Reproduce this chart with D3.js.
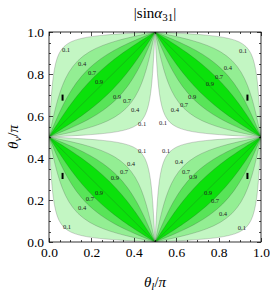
<!DOCTYPE html>
<meta charset="utf-8">
<style>
  body { margin: 0; background: white; }
  svg { background-color: white; }
  .axis text { font-family: "Liberation Serif", "Times New Roman", serif; font-size: 13.5px; fill: black; }
  .axis path { stroke: none; }
  .axis line { stroke: black; stroke-width: 0.7; shape-rendering: crispEdges; }
  .clab { font-family: "Liberation Serif", serif; font-size: 6.5px; fill: #222; }
  .ttl { font-family: "Liberation Serif", "Times New Roman", serif; fill: black; }
</style>
<body>
<div id="chart"></div>
<script src="https://d3js.org/d3.v7.min.js"></script>
<script>
// contour levels of |sin a31| and their fill colours (band above each level)
var levels = [0.1, 0.4, 0.7, 0.9];
var bandColors = ["#c3f6c3", "#93ee93", "#58e458", "#0be10b"];

// outer contour of each level, lower-left quadrant, from the diagonal point outwards (theta_l/pi, theta_nu/pi)
var c01x = [0.0701, 0.1031, 0.1485, 0.2071, 0.2678, 0.3378, 0.3946, 0.4437, 0.4763];
var c01y = [0.0701, 0.0472, 0.0316, 0.0209, 0.0142, 0.0089, 0.0055, 0.0029, 0.0012];
var c04x = [0.1364, 0.1912, 0.2543, 0.3179, 0.3686, 0.4149, 0.4469, 0.4722, 0.4884];
var c04y = [0.1364, 0.0941, 0.0638, 0.0425, 0.0290, 0.0182, 0.0112, 0.0058, 0.0024];
var c07x = [0.1810, 0.2433, 0.3066, 0.3627, 0.4035, 0.4385, 0.4619, 0.4801, 0.4917];
var c07y = [0.1810, 0.1282, 0.0881, 0.0592, 0.0405, 0.0254, 0.0156, 0.0081, 0.0034];
var c09x = [0.2132, 0.2772, 0.3372, 0.3868, 0.4212, 0.4502, 0.4692, 0.4839, 0.4933];
var c09y = [0.2132, 0.1546, 0.1077, 0.0728, 0.0500, 0.0314, 0.0194, 0.0101, 0.0042];

// contour labels
var labText = ["0.1","0.4","0.7","0.9","0.9","0.7","0.4","0.1",
               "0.1","0.4","0.7","0.9","0.9","0.7","0.4","0.1",
               "0.1","0.4","0.7","0.9","0.9","0.7","0.4","0.1",
               "0.1","0.4","0.7","0.9","0.9","0.7","0.4","0.1"];
var labX = [0.080,0.156,0.203,0.236,0.321,0.368,0.406,0.439,
            0.915,0.844,0.802,0.759,0.675,0.637,0.594,0.538,
            0.439,0.387,0.354,0.311,0.236,0.193,0.156,0.085,
            0.552,0.613,0.646,0.679,0.750,0.783,0.821,0.910];
var labY = [0.919,0.852,0.805,0.762,0.695,0.676,0.633,0.562,
            0.914,0.829,0.786,0.757,0.695,0.657,0.633,0.567,
            0.438,0.376,0.338,0.305,0.238,0.205,0.162,0.076,
            0.438,0.381,0.338,0.310,0.238,0.200,0.138,0.071];

// small black marks
var markX = [0.064, 0.064, 0.936, 0.936];
var markY0 = [0.673, 0.300, 0.673, 0.300];
var markY1 = [0.702, 0.329, 0.702, 0.329];

var majorTicks = [0, 0.2, 0.4, 0.6, 0.8, 1.0];
var minorTicks = [0.05,0.1,0.15,0.25,0.3,0.35,0.45,0.5,0.55,0.65,0.7,0.75,0.85,0.9,0.95];

var W = 270, H = 293;
var pL = 49, pR = 261, pT = 32, pB = 242;

var x = d3.scaleLinear().domain([0, 1]).range([pL, pR]);
var y = d3.scaleLinear().domain([0, 1]).range([pB, pT]);

var svg = d3.select("#chart").append("svg")
    .attr("width", W).attr("height", H);

svg.append("clipPath").attr("id", "clip")
  .append("rect")
    .attr("x", pL).attr("y", pT)
    .attr("width", pR - pL).attr("height", pB - pT);

var plot = svg.append("g").attr("clip-path", "url(#clip)");

// build full outer curve of a level (from (0,.5) to (.5,0))
function fullCurve(cx, cy) {
  var pts = [[0, 0.5]];
  for (var i = cx.length - 1; i >= 1; i--) pts.push([cy[i], cx[i]]);
  pts.push([cx[0], cy[0]]);
  for (var i = 1; i < cx.length; i++) pts.push([cx[i], cy[i]]);
  pts.push([0.5, 0]);
  return pts;
}
var curves = [fullCurve(c01x, c01y), fullCurve(c04x, c04y), fullCurve(c07x, c07y), fullCurve(c09x, c09y)];
// inner contour is the outer one turned round the quadrant centre
var inner = curves.map(function(c) { return c.map(function(p) { return [0.5 - p[0], 0.5 - p[1]]; }); });

var quads = [[false,false],[true,false],[false,true],[true,true]];

quads.forEach(function(q) {
  var line = d3.line()
    .x(function(d) { return x(q[0] ? 1 - d[0] : d[0]); })
    .y(function(d) { return y(q[1] ? 1 - d[1] : d[1]); })
    .curve(d3.curveCatmullRom.alpha(0.5));

  levels.forEach(function(lv, i) {
    plot.append("path")
      .attr("d", line(curves[i]) + line(inner[i]).replace(/^M/, "L") + "Z")
      .attr("fill", bandColors[i])
      .attr("stroke", "none");
  });
  levels.forEach(function(lv, i) {
    [curves[i], inner[i]].forEach(function(c) {
      plot.append("path")
        .attr("d", line(c))
        .attr("fill", "none")
        .attr("stroke", "#333")
        .attr("stroke-opacity", 0.4)
        .attr("stroke-width", 0.55);
    });
  });
  plot.append("path")
    .attr("d", line([[0, 0.5], [0.5, 0]]))
    .attr("fill", "none")
    .attr("stroke", "#333")
    .attr("stroke-opacity", 0.4)
    .attr("stroke-width", 0.55);
});

// contour labels
plot.selectAll(".clab")
  .data(labText)
  .enter().append("text")
    .attr("class", "clab")
    .attr("x", function(d, i) { return x(labX[i]); })
    .attr("y", function(d, i) { return y(labY[i]); })
    .attr("text-anchor", "middle")
    .attr("dominant-baseline", "central")
    .text(function(d) { return d; });

// black marks
plot.selectAll(".mark")
  .data(markX)
  .enter().append("line")
    .attr("class", "mark")
    .attr("x1", function(d) { return x(d); })
    .attr("x2", function(d) { return x(d); })
    .attr("y1", function(d, i) { return y(markY0[i]); })
    .attr("y2", function(d, i) { return y(markY1[i]); })
    .attr("stroke", "black")
    .attr("stroke-width", 2);

// frame ticks (inside)
function addAxis(gen, tx, ty, vals, size, labels) {
  var a = gen.tickValues(vals).tickSizeInner(-size).tickSizeOuter(0).tickPadding(labels ? 5 : 0);
  if (!labels) a.tickFormat("");
  else a.tickFormat(d3.format(".1f"));
  svg.append("g").attr("class", "axis")
    .attr("transform", "translate(" + tx + "," + ty + ")")
    .call(a);
}
addAxis(d3.axisBottom(x), 0, pB, majorTicks, 4, true);
addAxis(d3.axisBottom(x), 0, pB, minorTicks, 2, false);
addAxis(d3.axisTop(x), 0, pT, majorTicks, 4, false);
addAxis(d3.axisTop(x), 0, pT, minorTicks, 2, false);
addAxis(d3.axisLeft(y), pL, 0, majorTicks, 4, true);
addAxis(d3.axisLeft(y), pL, 0, minorTicks, 2, false);
addAxis(d3.axisRight(y), pR, 0, majorTicks, 4, false);
addAxis(d3.axisRight(y), pR, 0, minorTicks, 2, false);

svg.append("rect")
  .attr("x", pL).attr("y", pT)
  .attr("width", pR - pL).attr("height", pB - pT)
  .attr("fill", "none").attr("stroke", "black").attr("stroke-width", 0.8);

// title and axis labels
var t = svg.append("text").attr("class", "ttl")
  .attr("x", (pL + pR) / 2).attr("y", 18)
  .attr("text-anchor", "middle").attr("font-size", 15);
t.append("tspan").text("|sin");
t.append("tspan").attr("font-style", "italic").text("α");
t.append("tspan").attr("font-size", 11).attr("dy", 3).text("31");
t.append("tspan").attr("dy", -3).text("|");

var xl = svg.append("text").attr("class", "ttl")
  .attr("x", (pL + pR) / 2).attr("y", 287)
  .attr("text-anchor", "middle").attr("font-size", 15);
xl.append("tspan").attr("font-style", "italic").text("θ");
xl.append("tspan").attr("font-style", "italic").attr("font-size", 11).attr("dy", 3).text("l");
xl.append("tspan").attr("dy", -3).text("/");
xl.append("tspan").attr("font-style", "italic").text("π");

var yl = svg.append("text").attr("class", "ttl")
  .attr("transform", "translate(18," + (pT + pB) / 2 + ") rotate(-90)")
  .attr("text-anchor", "middle").attr("font-size", 15);
yl.append("tspan").attr("font-style", "italic").text("θ");
yl.append("tspan").attr("font-style", "italic").attr("font-size", 11).attr("dy", 3).text("ν");
yl.append("tspan").attr("dy", -3).text("/");
yl.append("tspan").attr("font-style", "italic").text("π");
</script>
</body>
